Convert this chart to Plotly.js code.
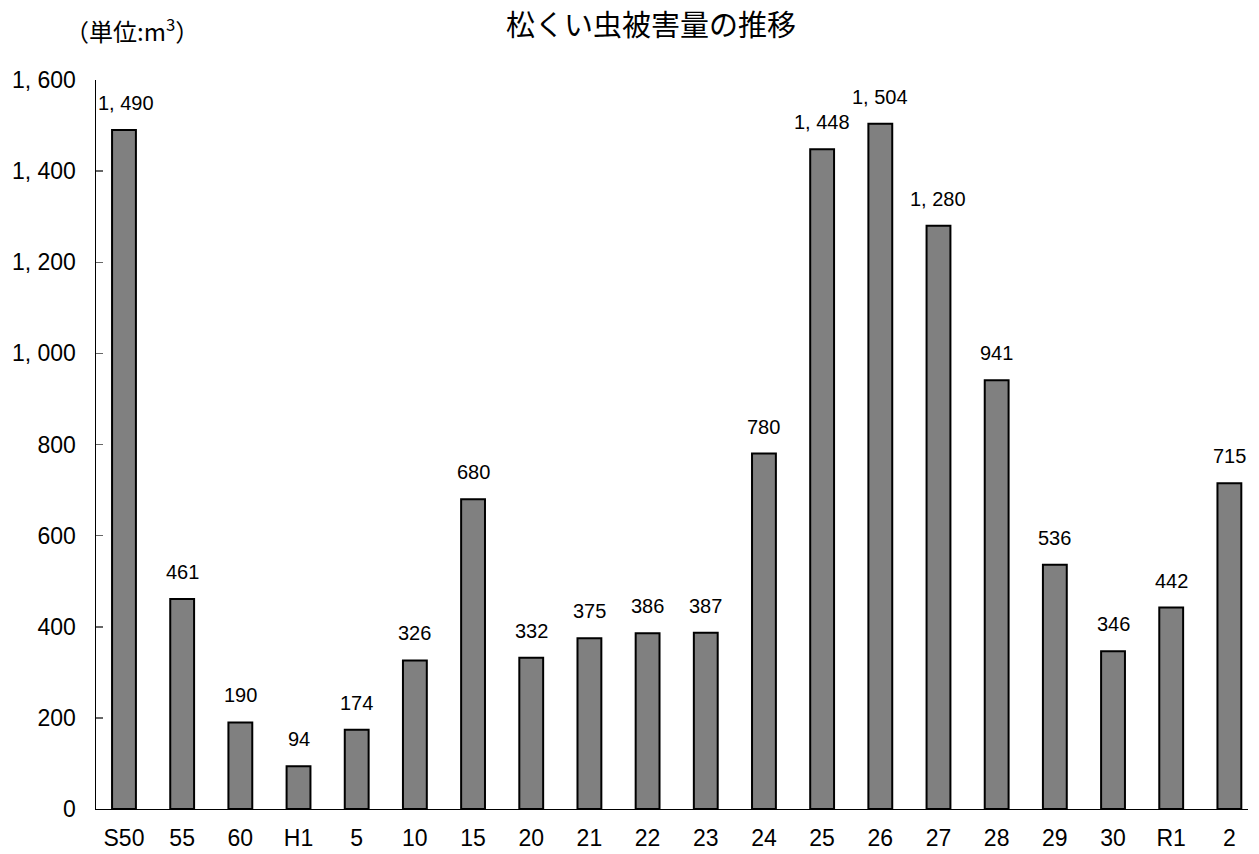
<!DOCTYPE html>
<html>
<head>
<meta charset="utf-8">
<script src="https://cdn.plot.ly/plotly-3.0.1.min.js"></script>
<style>html,body{margin:0;padding:0;background:#fff;}#chart{width:1259px;height:854px;}</style>
</head>
<body>
<div id="chart"></div>
<script>
const categories = ["S50","55","60","H1","5","10","15","20","21","22","23","24","25","26","27","28","29","30","R1","2"];
const damage = [1490,461,190,94,174,326,680,332,375,386,387,780,1448,1504,1280,941,536,346,442,715];
const yTicks = [0,200,400,600,800,1000,1200,1400,1600];

function fmt(n){
  if (n >= 1000) { const r = n % 1000; return Math.floor(n/1000) + ", " + String(r).padStart(3,"0"); }
  return String(n);
}
const numFont = "Liberation Sans, Arial, sans-serif";
const jpFont = "Noto Sans CJK JP, sans-serif";

const trace = {
  type: "bar",
  x: categories,
  y: damage,
  width: 0.41,
  marker: { color: "#808080", line: { color: "#000", width: 2 } },
  hoverinfo: "none"
};

const annotations = categories.map((c, i) => ({
  x: i, y: damage[i], xref: "x", yref: "y",
  text: fmt(damage[i]), showarrow: false,
  xshift: i === 0 ? 2 : 0,
  yanchor: "bottom", yshift: 14,
  font: { family: numFont, size: 20, color: "#000" }
}));
annotations.push({
  xref: "paper", yref: "paper", x: (651-96)/(1248-96), y: 1, xanchor: "center", yanchor: "middle",
  yshift: 80-23, text: "松くい虫被害量の推移", showarrow: false,
  font: { family: jpFont, size: 29, color: "#000" }
});
annotations.push({
  xref: "paper", yref: "paper", x: (132-96)/(1248-96), y: 1, xanchor: "center", yanchor: "middle",
  yshift: 80-30, text: "（単位:m<sup>3</sup>）", showarrow: false,
  font: { family: jpFont, size: 24, color: "#000" }
});

const layout = {
  width: 1259, height: 854,
  margin: { l: 96, r: 11, t: 80, b: 45 },
  paper_bgcolor: "#fff", plot_bgcolor: "#fff",
  showlegend: false,
  xaxis: {
    type: "category", range: [-0.481, 19.32],
    showline: true, linecolor: "#000", linewidth: 1,
    ticks: "", showgrid: false, zeroline: false,
    tickfont: { family: numFont, size: 23, color: "#000" },
    ticklabelstandoff: 8
  },
  yaxis: {
    range: [0, 1600], tickvals: yTicks, ticktext: yTicks.map(fmt),
    showline: true, linecolor: "#000", linewidth: 1.5,
    ticks: "inside", ticklen: 7, tickcolor: "#666", tickwidth: 1.5,
    showgrid: false, zeroline: false,
    tickfont: { family: numFont, size: 23, color: "#000" },
    ticklabelstandoff: 14
  },
  annotations: annotations
};

Plotly.newPlot("chart", [trace], layout, { staticPlot: true, displayModeBar: false });
</script>
</body>
</html>
